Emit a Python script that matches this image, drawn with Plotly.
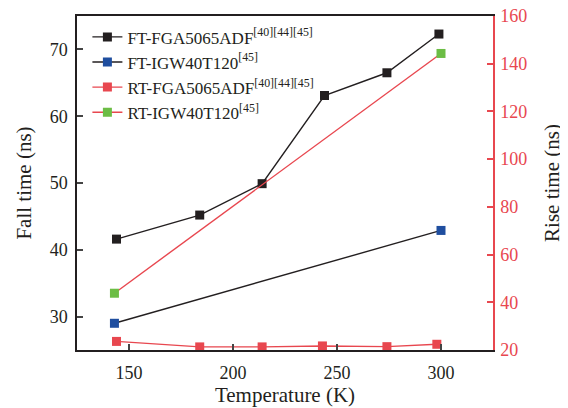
import plotly.graph_objects as go

# Data
ft_fga_T = [144, 184, 214, 244, 274, 299]
ft_fga_v = [41.6, 45.2, 49.9, 63.1, 66.5, 72.3]
ft_igw_T = [143, 300]
ft_igw_v = [29.0, 42.9]
rt_fga_T = [144, 184, 214, 243, 274, 298]
rt_fga_v = [23.6, 21.3, 21.3, 21.7, 21.4, 22.4]
rt_igw_T = [143, 300]
rt_igw_v = [43.8, 144.3]

BLACK = "#231f20"
BLUE = "#1f4e9f"
RED = "#e8474f"
GREEN = "#6cbd45"
FONT = "Liberation Serif"

fig = go.Figure()
fig.add_trace(go.Scatter(x=ft_fga_T, y=ft_fga_v, mode="lines+markers",
                         name="FT-FGA5065ADF<sup>[40][44][45]</sup>",
                         line=dict(color=BLACK, width=1.4),
                         marker=dict(symbol="square", size=9, color=BLACK)))
fig.add_trace(go.Scatter(x=ft_igw_T, y=ft_igw_v, mode="lines+markers",
                         name="FT-IGW40T120<sup>[45]</sup>",
                         line=dict(color=BLACK, width=1.4),
                         marker=dict(symbol="square", size=9, color=BLUE)))
fig.add_trace(go.Scatter(x=rt_fga_T, y=rt_fga_v, mode="lines+markers",
                         name="RT-FGA5065ADF<sup>[40][44][45]</sup>",
                         line=dict(color=RED, width=1.4), yaxis="y2",
                         marker=dict(symbol="square", size=9, color=RED)))
fig.add_trace(go.Scatter(x=rt_igw_T, y=rt_igw_v, mode="lines+markers",
                         name="RT-IGW40T120<sup>[45]</sup>",
                         line=dict(color=RED, width=1.4), yaxis="y2",
                         marker=dict(symbol="square", size=9, color=GREEN)))

# The page body adds an 8px offset; margins compensate for it.
fig.update_layout(
    width=568, height=408,
    margin=dict(l=69, r=83, t=8, b=66, autoexpand=False),
    paper_bgcolor="white", plot_bgcolor="white",
    font=dict(family=FONT, size=18, color=BLACK),
    showlegend=True,
    legend=dict(x=0.025, y=0.99, xanchor="left", yanchor="top",
                bgcolor="rgba(0,0,0,0)", font=dict(size=17, family=FONT, color=BLACK),
                itemwidth=30, tracegroupgap=0),
    xaxis=dict(range=[125, 325], tickvals=[150, 200, 250, 300],
               ticks="inside", ticklen=6, tickcolor="#444", tickwidth=1.5,
               showline=True, linecolor=BLACK, linewidth=1.5, mirror=True,
               showgrid=False, zeroline=False, automargin=False,
               ticklabelstandoff=6, ticklabeloverflow="allow",
               title=dict(text="Temperature (K)", font=dict(size=21), standoff=5),
               tickfont=dict(size=18)),
    yaxis=dict(range=[25, 75], tickvals=[30, 40, 50, 60, 70],
               ticks="inside", ticklen=6, tickcolor="#444", tickwidth=1.5,
               showline=True, linecolor=BLACK, linewidth=1.5,
               showgrid=False, zeroline=False, automargin=False,
               ticklabelstandoff=4, ticklabeloverflow="allow",
               title=dict(text="Fall time (ns)", font=dict(size=21), standoff=12),
               tickfont=dict(size=18)),
    yaxis2=dict(range=[20, 160], tickvals=[20, 40, 60, 80, 100, 120, 140, 160],
                overlaying="y", side="right", anchor="x",
                ticks="inside", ticklen=6, tickcolor=RED, tickwidth=1.5,
                showline=True, linecolor=RED, linewidth=1.5,
                showgrid=False, zeroline=False, automargin=False,
                ticklabelstandoff=2, ticklabeloverflow="allow",
                title=dict(text="Rise time (ns)", font=dict(size=21, color=BLACK), standoff=18),
                tickfont=dict(size=18, color=RED)),
)

fig.write_html("out.html")
